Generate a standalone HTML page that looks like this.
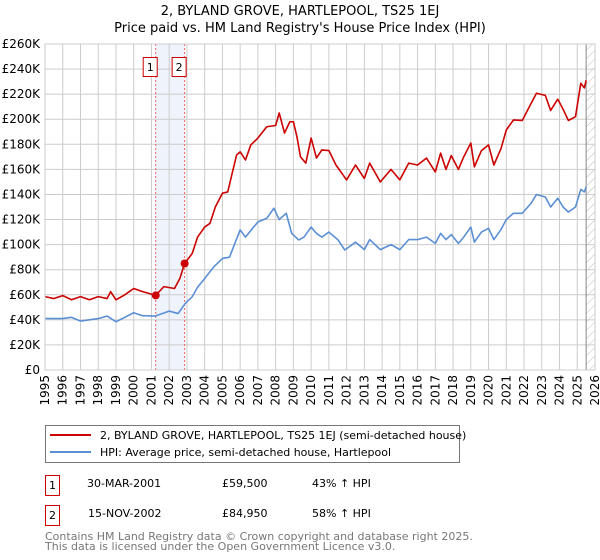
<!DOCTYPE html>
<html><head><meta charset="utf-8"><style>
body{margin:0;background:#fff;}
svg{display:block;font-family:"DejaVu Sans","Liberation Sans",sans-serif;}
</style></head><body>
<svg id="c" width="600" height="560" xmlns="http://www.w3.org/2000/svg">
<defs><pattern id="hatch" width="6" height="6" patternUnits="userSpaceOnUse" patternTransform="rotate(45)"><line x1="0" y1="0" x2="0" y2="6" stroke="#bbb" stroke-width="1"/></pattern></defs>
<text x="300" y="15" text-anchor="middle" font-size="13">2, BYLAND GROVE, HARTLEPOOL, TS25 1EJ</text>
<text x="300" y="32" text-anchor="middle" font-size="13">Price paid vs. HM Land Registry's House Price Index (HPI)</text>
<g id="plot"></g>
<g>
<rect x="45.5" y="425.5" width="414" height="37" fill="#fff" stroke="#777"/>
<line x1="50" y1="435" x2="91" y2="435" stroke="#cc0000" stroke-width="2"/>
<text x="100" y="439" font-size="11">2, BYLAND GROVE, HARTLEPOOL, TS25 1EJ (semi-detached house)</text>
<line x1="50" y1="452" x2="91" y2="452" stroke="#5b8fd4" stroke-width="2"/>
<text x="100" y="456" font-size="11">HPI: Average price, semi-detached house, Hartlepool</text>
</g>
<g>
<rect x="45.5" y="475.5" width="14" height="20" fill="#fff" stroke="#cc0000"/>
<text x="52.5" y="489" text-anchor="middle" font-size="11">1</text>
<text x="87" y="487" font-size="11">30-MAR-2001</text>
<text x="222" y="487" font-size="11">£59,500</text>
<text x="312" y="487" font-size="11">43% ↑ HPI</text>
<rect x="45.5" y="505.5" width="14" height="20" fill="#fff" stroke="#cc0000"/>
<text x="52.5" y="519" text-anchor="middle" font-size="11">2</text>
<text x="88" y="517" font-size="11">15-NOV-2002</text>
<text x="222" y="517" font-size="11">£84,950</text>
<text x="312" y="517" font-size="11">58% ↑ HPI</text>
</g>
<text x="45" y="540" font-size="11" fill="#777">Contains HM Land Registry data © Crown copyright and database right 2025.</text>
<text x="45" y="550" font-size="11" fill="#777">This data is licensed under the Open Government Licence v3.0.</text>
</svg>
<script>
const hpiYears=[1995,1996,1996.5,1997,1998,1998.5,1999,1999.5,2000,2000.5,2001.2,2002,2002.5,2002.9,2003.3,2003.6,2004,2004.5,2005,2005.4,2005.7,2006,2006.3,2006.7,2007,2007.5,2007.9,2008.2,2008.6,2008.9,2009.3,2009.6,2010,2010.3,2010.6,2011,2011.5,2011.9,2012.5,2013,2013.3,2013.9,2014.5,2015,2015.5,2016,2016.5,2017,2017.3,2017.6,2017.9,2018.3,2018.6,2019,2019.2,2019.6,2020,2020.3,2020.7,2021,2021.4,2021.9,2022.4,2022.7,2023.2,2023.5,2023.9,2024.2,2024.5,2024.9,2025.2,2025.4,2025.5];
const hpiValues=[41,41,42,39,41,43,38.5,42,45.7,43.3,43,47,45,53,58.5,66,73,82,89,90,101,111.7,106,113,118,121,129,120,125,109,103.7,106,114,109,106,110,104,95.7,102,96,104,96,100,96,104,104,106,101,109,104,108,101,106,114,102,110,113,104,112,120,125,125,133,140,138,130,137,130,126,130,144,142,146];
const priceYears=[1995,1995.5,1996,1996.5,1997,1997.5,1998,1998.5,1998.7,1999,1999.5,2000,2000.5,2001.24,2001.7,2002.3,2002.6,2002.87,2003.3,2003.6,2004,2004.3,2004.6,2005,2005.3,2005.5,2005.8,2006,2006.3,2006.6,2007,2007.5,2008,2008.2,2008.5,2008.8,2009,2009.2,2009.4,2009.7,2010,2010.3,2010.6,2011,2011.4,2012,2012.5,2013,2013.3,2013.9,2014.5,2015,2015.5,2016,2016.5,2017,2017.3,2017.6,2017.9,2018.3,2018.6,2019,2019.2,2019.6,2020,2020.3,2020.7,2021,2021.4,2021.9,2022.4,2022.7,2023.2,2023.5,2023.9,2024.2,2024.5,2024.9,2025.2,2025.4,2025.5];
const priceValues=[58.5,57,59.3,56,58.5,56,58.5,57,62.5,56,60,65,62.5,59.5,66.5,65,73,84.95,93,106,114,117,130,141,142,154,171.5,174,167.5,179.5,185,194,195,205,189,198,198,186,170,165,185,169,175.5,175,163.5,151.6,163.5,152.8,165,150,160,151.6,165,163.5,169,158,173,160,171,160,170,181,162,175,179.5,163.5,176.5,191.4,199.4,199,212.7,220.7,219,207,216,208,199,202,228.7,225,231];
const saleYears=[2001.24,2002.87];
const saleValues=[59.5,84.95];
const saleLabels=["1","2"];
const yTicks=[0,20,40,60,80,100,120,140,160,180,200,220,240,260];
const xTicks=[1995,1996,1997,1998,1999,2000,2001,2002,2003,2004,2005,2006,2007,2008,2009,2010,2011,2012,2013,2014,2015,2016,2017,2018,2019,2020,2021,2022,2023,2024,2025,2026];

const NS="http://www.w3.org/2000/svg";
const L=45,R=595,T=44,B=370;
const X=y=>L+(y-1995)/(2026-1995)*(R-L);
const Y=v=>B-v/260*(B-T);
const g=document.getElementById('plot');
function mk(tag,at){const e=document.createElementNS(NS,tag);for(const k in at)e.setAttribute(k,at[k]);g.appendChild(e);return e;}

let band=mk('rect',{x:X(saleYears[0]),y:T,width:X(saleYears[1])-X(saleYears[0]),height:B-T,fill:'#eef3fc'});


let hat=mk('rect',{x:X(2025.5),y:T,width:R-X(2025.5),height:B-T,fill:'url(#hatch)'});


yTicks.forEach(v=>{
  let l=mk('line',{x1:L,x2:R,y1:Y(v),y2:Y(v),stroke:'#ccc','stroke-width':1});
  
  
  let t=mk('text',{x:L-5,y:Y(v)+4,'text-anchor':'end','font-size':12});
  t.textContent=v===0?'£0':'£'+v+'K';
  
  
});
xTicks.forEach(yr=>{
  let l=mk('line',{x1:X(yr),x2:X(yr),y1:T,y2:B,stroke:'#ccc','stroke-width':1});
  
  
  let t=mk('text',{x:0,y:0,'text-anchor':'end','font-size':12,transform:`translate(${X(yr)+4},${B+5}) rotate(-90)`});
  t.textContent=yr;
  
  
});
let vl=mk('line',{x1:X(2025.5),x2:X(2025.5),y1:T,y2:B,stroke:'#888','stroke-width':1});


saleYears.forEach((s,i)=>{
  let l=mk('line',{x1:X(s),x2:X(s),y1:T,y2:B,stroke:'#f06060','stroke-width':1,'stroke-dasharray':'2,2'});
  
  
  let r=mk('rect',{x:X(s)-12.5,y:57.5,width:14,height:19,fill:'#fff',stroke:'#cc0000'});
  
  
  let t=mk('text',{x:X(s)-5.5,y:71,'text-anchor':'middle','font-size':11});
  t.textContent=saleLabels[i];
  
  
});
function line(xs,vs,col,name){
  let p=mk('polyline',{points:xs.map((x,i)=>X(x)+','+Y(vs[i])).join(' '),fill:'none',stroke:col,'stroke-width':1.6,'stroke-linejoin':'round'});
  
  
}
line(hpiYears,hpiValues,'#5b8fd4','hpi-line');
line(priceYears,priceValues,'#cc0000','price-paid-line');
saleYears.forEach((s,i)=>{
  let c=mk('circle',{cx:X(s),cy:Y(saleValues[i]),r:4,fill:'#cc0000'});
  
  
});
let ax=mk('rect',{x:L,y:T,width:R-L,height:B-T,fill:'none',stroke:'#ccc'});


</script>
</body></html>
